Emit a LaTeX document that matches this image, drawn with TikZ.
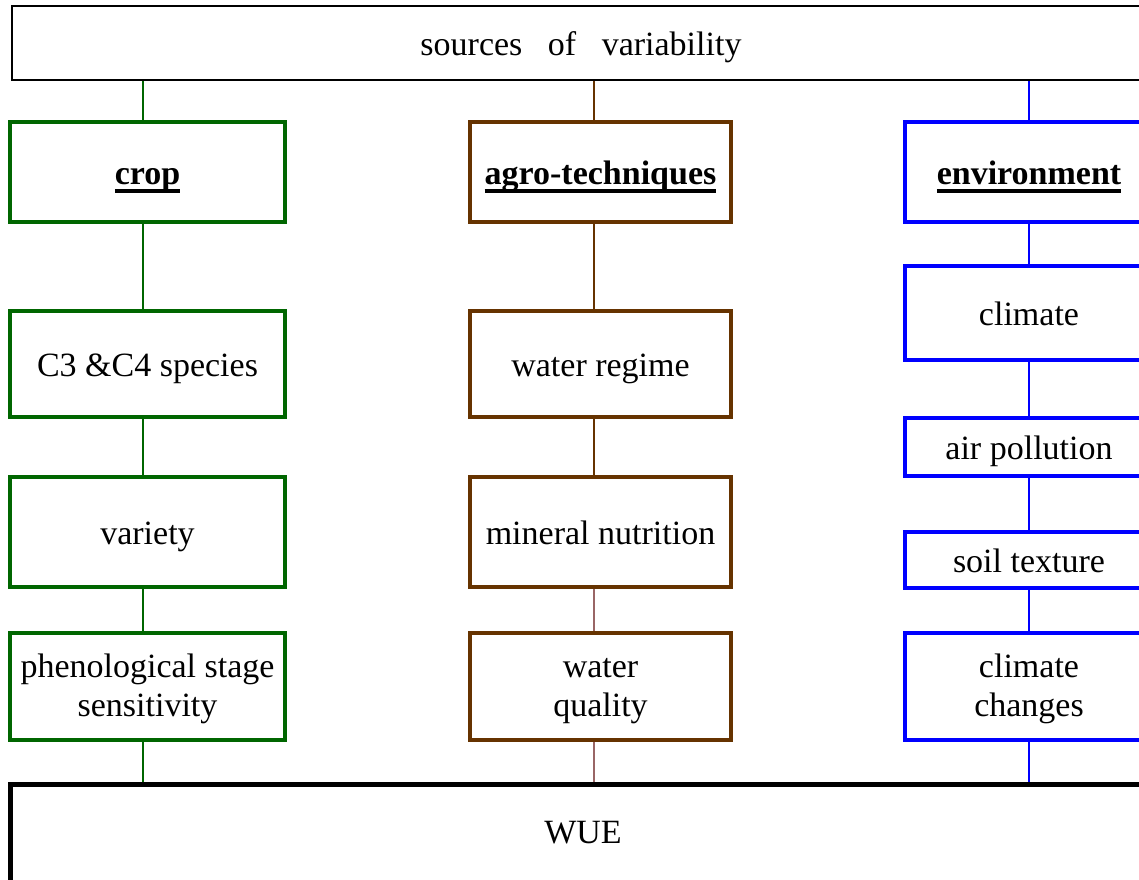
\documentclass[tikz,border=0pt]{standalone}
\usepackage{fontspec}
\setmainfont{Liberation Serif}
\usetikzlibrary{positioning}
\definecolor{svgreen}{HTML}{006600}
\definecolor{svbrown}{HTML}{663300}
\definecolor{svblue}{HTML}{0000FF}
\definecolor{svpink}{HTML}{996666}
\newcommand{\svul}[1]{\setbox0\hbox{#1}\rlap{\smash{\rule[-0.25em]{\wd0}{0.1em}}}\box0}
\newcommand{\svtwo}[2]{\raisebox{-3pt}[\height][\depth]{\begin{tabular}{@{}c@{}}#1\\#2\end{tabular}}}
\tikzset{
	sv_base/.style={font=\fontsize{34}{39}\selectfont, fill=white, inner sep=0pt, align=center},
	sv_one/.style={text height=31.5pt, text depth=7.5pt},
	sv_block/.style={sv_base, draw, rectangle, on grid, line width=4pt},
	sv_crop/.style={sv_block, draw=svgreen, minimum width=275pt},
	sv_agro/.style={sv_block, draw=svbrown, minimum width=261pt},
	sv_env/.style={sv_block, draw=svblue, minimum width=248pt},
	sv_head/.style={sv_one, font=\fontsize{34}{39}\selectfont\bfseries},
	sv_line/.style={line width=1.5pt}
}

\begin{document}
\begin{tikzpicture}[x=1pt, y=-1pt]
	\useasboundingbox (0,0) rectangle (1139,879);
	\fill[white] (0,0) rectangle (1139,879);
	\clip (0,0) rectangle (1139,879);

	\node [sv_base, sv_one, draw, line width=2pt, minimum width=1138pt, minimum height=74pt] (sources) at (581,43) {sources\hspace{0.5em} of\hspace{0.5em} variability};

	% crop
	\node [sv_crop, sv_head, minimum height=100pt] (crop) at (147.5,172) {\svul{crop}};
	\node [sv_crop, sv_one, minimum height=106pt, below = 192pt of crop] (species) {C3 \&C4 species};
	\node [sv_crop, sv_one, minimum height=110pt, below = 168pt of species] (variety) {variety};
	\node [sv_crop, minimum height=107pt, below = 154.5pt of variety] (stage) {\svtwo{phenological stage}{sensitivity}};

	% agro-techniques
	\node [sv_agro, sv_head, minimum height=100pt] (agro) at (600.5,172) {\svul{agro-techniques}};
	\node [sv_agro, sv_one, minimum height=106pt, below = 192pt of agro] (regime) {water regime};
	\node [sv_agro, sv_one, minimum height=110pt, below = 168pt of regime] (nutrition) {mineral nutrition};
	\node [sv_agro, minimum height=107pt, below = 154.5pt of nutrition] (quality) {\svtwo{water}{quality}};

	% environment
	\node [sv_env, sv_head, minimum height=100pt] (env) at (1029,172) {\svul{environment}};
	\node [sv_env, sv_one, minimum height=94pt, below = 141pt of env] (climate) {climate};
	\node [sv_env, sv_one, minimum height=58pt, below = 134pt of climate] (pollution) {air pollution};
	\node [sv_env, sv_one, minimum height=56pt, below = 113pt of pollution] (soil) {soil texture};
	\node [sv_env, minimum height=107pt, below = 126.5pt of soil] (changes) {\svtwo{climate}{changes}};

	% runs off the page at the bottom and right
	\node [sv_base, draw, line width=5pt, minimum width=1145pt, anchor=base, text height=58.5pt, text depth=120pt] (wue) at (583,843) {WUE};

	\coordinate (gx) at (143,0);
	\coordinate (bx) at (594,0);
	\coordinate (ex) at (1029,0);

	\draw [sv_line, svgreen] (sources.south -| gx) -- (crop.north -| gx);
	\draw [sv_line, svgreen] (crop.south -| gx) -- (species.north -| gx);
	\draw [sv_line, svgreen] (species.south -| gx) -- (variety.north -| gx);
	\draw [sv_line, svgreen] (variety.south -| gx) -- (stage.north -| gx);
	\draw [sv_line, svgreen] (stage.south -| gx) -- (wue.north -| gx);

	\draw [sv_line, svbrown] (sources.south -| bx) -- (agro.north -| bx);
	\draw [sv_line, svbrown] (agro.south -| bx) -- (regime.north -| bx);
	\draw [sv_line, svbrown] (regime.south -| bx) -- (nutrition.north -| bx);
	\draw [sv_line, svpink] (nutrition.south -| bx) -- (quality.north -| bx);
	\draw [sv_line, svpink] (quality.south -| bx) -- (wue.north -| bx);

	\draw [sv_line, svblue] (sources.south -| ex) -- (env.north -| ex);
	\draw [sv_line, svblue] (env.south -| ex) -- (climate.north -| ex);
	\draw [sv_line, svblue] (climate.south -| ex) -- (pollution.north -| ex);
	\draw [sv_line, svblue] (pollution.south -| ex) -- (soil.north -| ex);
	\draw [sv_line, svblue] (soil.south -| ex) -- (changes.north -| ex);
	\draw [sv_line, svblue] (changes.south -| ex) -- (wue.north -| ex);
\end{tikzpicture}
\end{document}
